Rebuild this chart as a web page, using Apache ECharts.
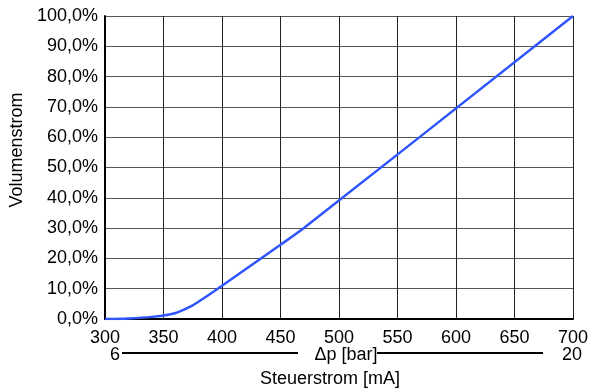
<!DOCTYPE html>
<html>
<head>
<meta charset="utf-8">
<script src="https://cdn.jsdelivr.net/npm/echarts@6/dist/echarts.min.js"></script>
<style>html,body{margin:0;padding:0;background:#fff;}#c{width:597px;height:388px;}</style>
</head>
<body>
<div id="c"></div>
<script>
const xValues = [300, 320, 340, 355, 362, 375, 385, 400, 450, 470, 700];
const yValues = [0, 0.2, 0.7, 1.5, 2.2, 4.5, 7, 11, 24.5, 30, 100];
const xTickMin = 300, xTickMax = 700, xTickStep = 50;
const yTickMin = 0, yTickMax = 100, yTickStep = 10;
const yAxisTitle = 'Volumenstrom';
const xAxisTitle = 'Steuerstrom [mA]';
const dpLabel = 'Δp [bar]';
const dpMin = '6', dpMax = '20';

const font = 'Liberation Sans, Arial, sans-serif';
const chart = echarts.init(document.getElementById('c'), null, {renderer: 'canvas'});
chart.setOption({
  animation: false,
  backgroundColor: '#fff',
  grid: {left: 105, right: 24, top: 16, bottom: 69},
  xAxis: {
    type: 'value', min: xTickMin, max: xTickMax, interval: xTickStep,
    axisLine: {show: true, lineStyle: {color: '#000', width: 2}},
    axisTick: {show: false},
    axisLabel: {color: '#000', fontSize: 18, fontFamily: font, margin: 10},
    splitLine: {show: true, lineStyle: {color: '#222', width: 1}}
  },
  yAxis: {
    type: 'value', min: yTickMin, max: yTickMax, interval: yTickStep,
    axisLine: {show: true, lineStyle: {color: '#000', width: 2}},
    axisTick: {show: false},
    axisLabel: {color: '#000', fontSize: 18, fontFamily: font, margin: 7,
      formatter: v => v.toFixed(1).replace('.', ',') + '%'},
    splitLine: {show: true, lineStyle: {color: '#555', width: 1}}
  },
  series: [{
    type: 'line',
    data: xValues.map((x, i) => [x, yValues[i]]),
    showSymbol: false,
    smooth: 0.3,
    lineStyle: {color: '#2f55ff', width: 2.5},
    z: 5
  }],
  graphic: [
    {type: 'text', x: 17, y: 150, rotation: Math.PI / 2,
     style: {text: yAxisTitle, fill: '#000', font: '18px ' + font, align: 'center', verticalAlign: 'middle'}},
    {type: 'line', shape: {x1: 122, y1: 353, x2: 298, y2: 353}, style: {stroke: '#000', lineWidth: 2}},
    {type: 'line', shape: {x1: 377, y1: 353, x2: 543, y2: 353}, style: {stroke: '#000', lineWidth: 2}},
    {type: 'text', x: 115, y: 355, style: {text: dpMin, fill: '#000', font: '18px ' + font, align: 'center', verticalAlign: 'middle'}},
    {type: 'text', x: 572, y: 355, style: {text: dpMax, fill: '#000', font: '18px ' + font, align: 'center', verticalAlign: 'middle'}},
    {type: 'text', x: 346, y: 355, style: {text: dpLabel, fill: '#000', font: '18px ' + font, align: 'center', verticalAlign: 'middle'}},
    {type: 'text', x: 330, y: 379, style: {text: xAxisTitle, fill: '#000', font: '18px ' + font, align: 'center', verticalAlign: 'middle'}}
  ]
});
</script>
</body>
</html>
